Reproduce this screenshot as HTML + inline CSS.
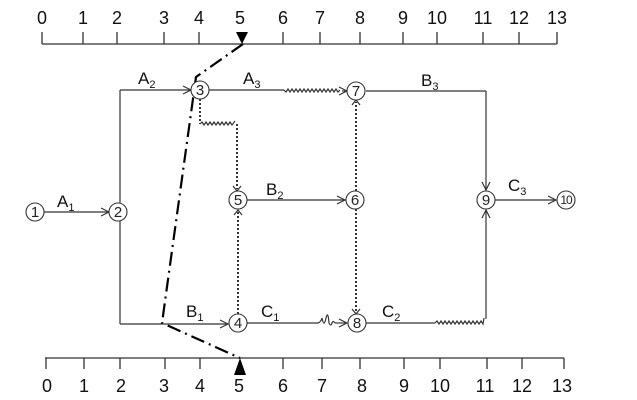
<!DOCTYPE html>
<html><head><meta charset="utf-8"><style>
html,body{margin:0;padding:0;background:#fff;}
svg{display:block;font-family:"Liberation Sans",Arial,sans-serif;}
</style></head><body>
<svg width="637" height="400" viewBox="0 0 637 400">
<defs>
<marker id="ar" markerWidth="10" markerHeight="10" refX="9" refY="5" orient="auto" markerUnits="userSpaceOnUse">
<path d="M1,1 L9,5 L1,9" fill="none" stroke="#333" stroke-width="1.2"/></marker>
</defs>
<g stroke="#333" stroke-width="1.3" fill="none">
<line x1="42" y1="44" x2="557" y2="44"/>
<line x1="42" y1="32" x2="42" y2="44"/><line x1="83" y1="32" x2="83" y2="44"/><line x1="117" y1="32" x2="117" y2="44"/>
<line x1="164" y1="32" x2="164" y2="44"/><line x1="199" y1="32" x2="199" y2="44"/><line x1="283" y1="32" x2="283" y2="44"/>
<line x1="320" y1="32" x2="320" y2="44"/><line x1="360" y1="32" x2="360" y2="44"/><line x1="403" y1="32" x2="403" y2="44"/>
<line x1="437" y1="32" x2="437" y2="44"/><line x1="483" y1="32" x2="483" y2="44"/><line x1="519" y1="32" x2="519" y2="44"/><line x1="557" y1="32" x2="557" y2="44"/>
<line x1="45" y1="358" x2="564" y2="358"/>
<line x1="46" y1="358" x2="46" y2="369"/><line x1="84" y1="358" x2="84" y2="369"/><line x1="120" y1="358" x2="120" y2="369"/>
<line x1="165" y1="358" x2="165" y2="369"/><line x1="200" y1="358" x2="200" y2="369"/><line x1="283" y1="358" x2="283" y2="369"/>
<line x1="322" y1="358" x2="322" y2="369"/><line x1="360" y1="358" x2="360" y2="369"/><line x1="404" y1="358" x2="404" y2="369"/>
<line x1="440" y1="358" x2="440" y2="369"/><line x1="487" y1="358" x2="487" y2="369"/><line x1="522" y1="358" x2="522" y2="369"/><line x1="564" y1="358" x2="564" y2="369"/>
</g>
<polygon points="236,32 248,32 242,44" fill="#000"/>
<polygon points="234,375 246,375 240,358" fill="#000"/>
<polyline points="243,44 196,77 162,323 240,358" fill="none" stroke="#000" stroke-width="2.2" stroke-dasharray="14,5,2,5"/>
<g stroke="#333" stroke-width="1.2" fill="none">
<line x1="44" y1="212" x2="109" y2="212" marker-end="url(#ar)"/>
<line x1="120" y1="90" x2="120" y2="203"/>
<line x1="120" y1="221" x2="120" y2="324"/>
<line x1="120" y1="90" x2="191" y2="90" marker-end="url(#ar)"/>
<line x1="209" y1="90" x2="284" y2="90"/>
<path d="M284,90 l2,2 l2,-3 l2,3 l2,-3 l2,3 l2,-3 l2,3 l2,-3 l2,3 l2,-3 l2,3 l2,-3 l2,3 l2,-3 l2,3 l2,-3 l2,3 l2,-3 l2,3 l2,-3 l2,3 l2,-3 l2,3 l2,-3 l2,3 l2,-3 l2,3 l2,-2"/>
<line x1="342" y1="91" x2="347" y2="91" marker-end="url(#ar)"/>
<line x1="366" y1="91" x2="486" y2="91"/>
<line x1="486" y1="91" x2="486" y2="190" marker-end="url(#ar)"/>
<line x1="495" y1="200" x2="556" y2="200" marker-end="url(#ar)"/>
<line x1="247" y1="200" x2="345" y2="200" marker-end="url(#ar)"/>
<line x1="120" y1="324" x2="228" y2="324" marker-end="url(#ar)"/>
<line x1="247" y1="323" x2="318" y2="323"/>
<path d="M318,323 q3,-1 4,-5 q2,10 4,0 q2,-8 3,5 q2,4 3,0 q1,-3 3,0"/>
<line x1="335" y1="323" x2="347" y2="323" marker-end="url(#ar)"/>
<line x1="366" y1="323" x2="435" y2="323"/>
<path d="M435,323 l2,-2 l2,3 l2,-3 l2,3 l2,-3 l2,3 l2,-3 l2,3 l2,-3 l2,3 l2,-3 l2,3 l2,-3 l2,3 l2,-3 l2,3 l2,-3 l2,3 l2,-3 l2,3 l2,-3 l2,3 l2,-3 l2,3 l1,-6"/>
<line x1="486" y1="319" x2="486" y2="210" marker-end="url(#ar)"/>
</g>
<g stroke="#333" stroke-width="2" fill="none" stroke-dasharray="2,2">
<line x1="200" y1="99" x2="200" y2="124"/>
<line x1="237" y1="124" x2="237" y2="189"/>
<line x1="238" y1="314" x2="238" y2="211"/>
<line x1="356" y1="191" x2="356" y2="102"/>
<line x1="356" y1="209" x2="356" y2="312"/>
</g>
<g stroke="#333" stroke-width="1.2" fill="none">
<path d="M200,124 l2,-2 l2,3 l2,-3 l2,3 l2,-3 l2,3 l2,-3 l2,3 l2,-3 l2,3 l2,-3 l2,3 l2,-3 l2,3 l2,-3 l2,3 l3,-4"/>
<path d="M233,186 L237,191 L241,186"/>
<path d="M234,215 L238,210 L242,215"/>
<path d="M352,105 L356,100 L360,105"/>
<path d="M352,309 L356,314 L360,309"/>
</g>
<g stroke="#333" stroke-width="1.1" fill="#fff">
<circle cx="35" cy="212" r="9"/><circle cx="118" cy="212" r="9"/><circle cx="200" cy="90" r="9"/>
<circle cx="238" cy="200" r="9"/><circle cx="355" cy="200" r="9"/><circle cx="356" cy="91" r="9"/>
<circle cx="238" cy="323" r="9"/><circle cx="357" cy="323" r="9"/><circle cx="486" cy="200" r="9"/><circle cx="566" cy="200" r="9"/>
</g>
<g font-size="15" text-anchor="middle" fill="#222">
<text x="35" y="217">1</text><text x="118" y="217">2</text><text x="200" y="95">3</text>
<text x="238" y="205">5</text><text x="355" y="205">6</text><text x="356" y="96">7</text>
<text x="238" y="328">4</text><text x="357" y="328">8</text><text x="486" y="205">9</text>
<text x="566" y="204" font-size="12" letter-spacing="-1">10</text>
</g>
<g font-size="17" fill="#111">
<text x="57" y="207">A<tspan font-size="11" dy="4">1</tspan></text>
<text x="138" y="84">A<tspan font-size="11" dy="4">2</tspan></text>
<text x="243" y="84">A<tspan font-size="11" dy="4">3</tspan></text>
<text x="421" y="86">B<tspan font-size="11" dy="4">3</tspan></text>
<text x="266" y="195">B<tspan font-size="11" dy="4">2</tspan></text>
<text x="508" y="191">C<tspan font-size="11" dy="4">3</tspan></text>
<text x="186" y="317">B<tspan font-size="11" dy="4">1</tspan></text>
<text x="261" y="317">C<tspan font-size="11" dy="4">1</tspan></text>
<text x="382" y="317">C<tspan font-size="11" dy="4">2</tspan></text>
</g>
<g font-size="18" text-anchor="middle" fill="#111">
<text x="42" y="24">0</text><text x="83" y="24">1</text><text x="117" y="24">2</text><text x="164" y="24">3</text>
<text x="199" y="24">4</text><text x="240" y="24">5</text><text x="283" y="24">6</text><text x="320" y="24">7</text>
<text x="360" y="24">8</text><text x="403" y="24">9</text><text x="437" y="24">10</text><text x="483" y="24">11</text>
<text x="519" y="24">12</text><text x="557" y="24">13</text>
<text x="47" y="392">0</text><text x="84" y="392">1</text><text x="121" y="392">2</text><text x="164" y="392">3</text>
<text x="200" y="392">4</text><text x="239" y="392">5</text><text x="283" y="392">6</text><text x="322" y="392">7</text>
<text x="362" y="392">8</text><text x="404" y="392">9</text><text x="440" y="392">10</text><text x="485" y="392">11</text>
<text x="522" y="392">12</text><text x="562" y="392">13</text>
</g>
</svg>
</body></html>
